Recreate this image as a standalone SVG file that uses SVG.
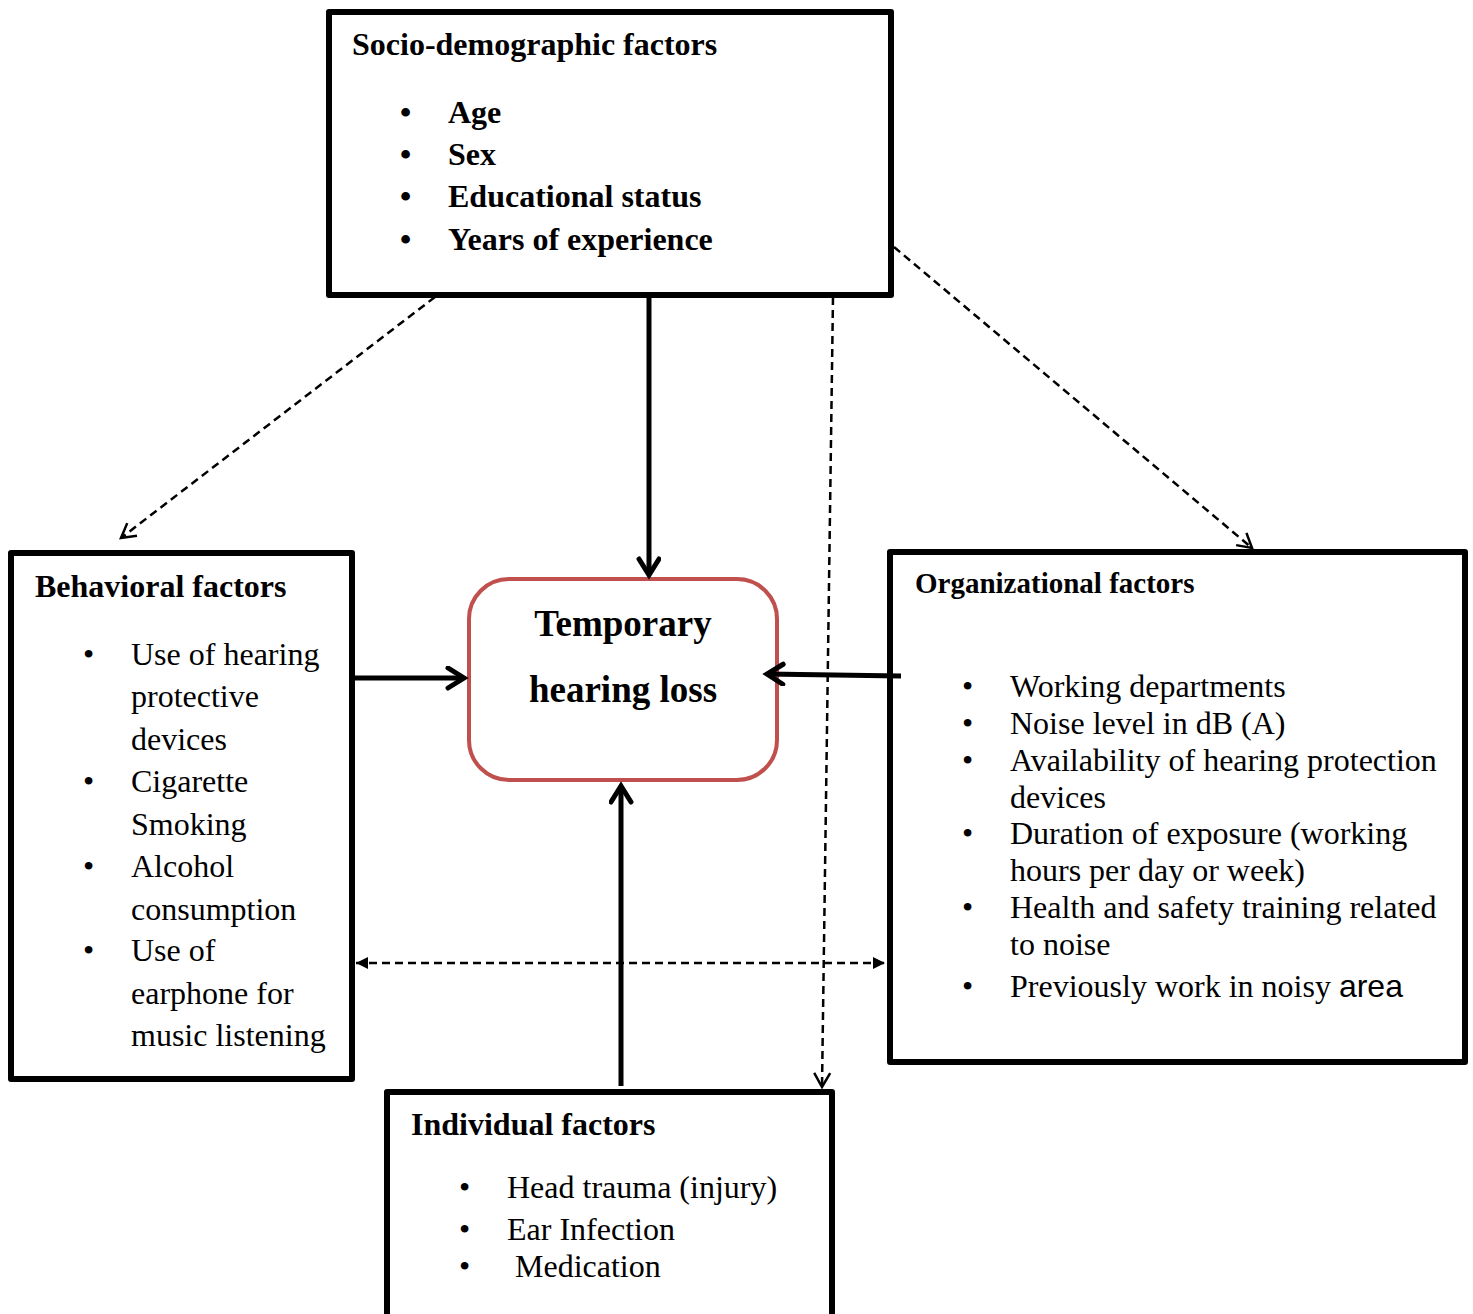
<svg xmlns="http://www.w3.org/2000/svg" width="1473" height="1314" viewBox="0 0 1473 1314">
<style>
.box{fill:#fff;stroke:#000;stroke-width:6;stroke-linejoin:round}
.title{font-family:"Liberation Serif","Times New Roman",serif;font-weight:bold;font-size:32px;fill:#000}
.b{font-family:"Liberation Serif","Times New Roman",serif;font-weight:bold;font-size:32px;fill:#000}
.r{font-family:"Liberation Serif","Times New Roman",serif;font-size:32px;fill:#000}
.r2{font-family:"Liberation Serif","Times New Roman",serif;font-size:32px;fill:#000}
.solid{stroke:#000;stroke-width:5;fill:none}
.dash{stroke:#000;stroke-width:2.5;stroke-dasharray:8,5;fill:none}
</style>
<defs>
<marker id="openBig" markerUnits="userSpaceOnUse" markerWidth="30" markerHeight="30" refX="22" refY="12" orient="auto">
<path d="M6,2 L22,12 L6,22" fill="none" stroke="#000" stroke-width="5" stroke-linecap="round" stroke-linejoin="miter"/>
</marker>
<marker id="openSmall" markerUnits="userSpaceOnUse" markerWidth="24" markerHeight="24" refX="18" refY="10" orient="auto">
<path d="M4,2 L18,10 L4,18" fill="none" stroke="#000" stroke-width="2.5"/>
</marker>
<marker id="fillSmall" markerUnits="userSpaceOnUse" markerWidth="16" markerHeight="16" refX="12" refY="6" orient="auto-start-reverse">
<path d="M0,0 L12,6 L0,12 Z" fill="#000"/>
</marker>
</defs>
<rect width="1473" height="1314" fill="#fff"/>

<g id="socio">
<rect class="box" x="329" y="12" width="562" height="283"/>
<text class="title" x="352" y="55">Socio-demographic factors</text>
<text class="b" x="400" y="123">•</text><text class="b" x="448" y="123">Age</text>
<text class="b" x="400" y="165">•</text><text class="b" x="448" y="165">Sex</text>
<text class="b" x="400" y="207">•</text><text class="b" x="448" y="207">Educational status</text>
<text class="b" x="400" y="250">•</text><text class="b" x="448" y="250">Years of experience</text>
</g>

<g id="behavioral">
<rect class="box" x="11" y="553" width="341" height="526"/>
<text class="title" x="35" y="597">Behavioral factors</text>
<text class="r" x="83" y="665">•</text><text class="r" x="131" y="665">Use of hearing</text>
<text class="r" x="131" y="707">protective</text>
<text class="r" x="131" y="750">devices</text>
<text class="r" x="83" y="792">•</text><text class="r" x="131" y="792">Cigarette</text>
<text class="r" x="131" y="835">Smoking</text>
<text class="r" x="83" y="877">•</text><text class="r" x="131" y="877">Alcohol</text>
<text class="r" x="131" y="920">consumption</text>
<text class="r" x="83" y="961">•</text><text class="r" x="131" y="961">Use of</text>
<text class="r" x="131" y="1004">earphone for</text>
<text class="r" x="131" y="1046">music listening</text>
</g>

<g id="organizational">
<rect class="box" x="890" y="552" width="575" height="510"/>
<text class="title" x="915" y="593" style="font-size:29px">Organizational factors</text>
<text class="r2" x="962" y="697">•</text><text class="r2" x="1010" y="697">Working departments</text>
<text class="r2" x="962" y="734">•</text><text class="r2" x="1010" y="734">Noise level in dB (A)</text>
<text class="r2" x="962" y="771">•</text><text class="r2" x="1010" y="771">Availability of hearing protection</text>
<text class="r2" x="1010" y="808">devices</text>
<text class="r2" x="962" y="844">•</text><text class="r2" x="1010" y="844">Duration of exposure (working</text>
<text class="r2" x="1010" y="881">hours per day or week)</text>
<text class="r2" x="962" y="918">•</text><text class="r2" x="1010" y="918">Health and safety training related</text>
<text class="r2" x="1010" y="955">to noise</text>
<text class="r2" x="962" y="997">•</text><text class="r2" x="1010" y="997">Previously work in noisy <tspan style="font-family:'Liberation Sans',Arial,sans-serif">area</tspan></text>
</g>

<g id="individual">
<rect class="box" x="387" y="1092" width="445" height="240"/>
<text class="title" x="411" y="1135">Individual factors</text>
<text class="r" x="459" y="1198">•</text><text class="r" x="507" y="1198">Head trauma (injury)</text>
<text class="r" x="459" y="1240">•</text><text class="r" x="507" y="1240">Ear Infection</text>
<text class="r" x="459" y="1277">•</text><text class="r" x="515" y="1277">Medication</text>
</g>

<g id="temporary">
<rect x="469" y="579" width="308" height="201" rx="40" ry="40" fill="#fff" stroke="#C0504D" stroke-width="4"/>
<text class="b" x="623" y="636" text-anchor="middle" style="font-size:37px">Temporary</text>
<text class="b" x="623" y="702" text-anchor="middle" style="font-size:37px">hearing loss</text>
</g>

<g id="connectors">
<line class="solid" x1="649" y1="297" x2="649" y2="575" marker-end="url(#openBig)"/>
<line class="solid" x1="354" y1="678" x2="464" y2="678" marker-end="url(#openBig)"/>
<line class="solid" x1="901" y1="676" x2="767" y2="674" marker-end="url(#openBig)"/>
<line class="solid" x1="621" y1="1086" x2="621" y2="786" marker-end="url(#openBig)"/>
<line class="dash" x1="435" y1="297" x2="121" y2="538" marker-end="url(#openSmall)"/>
<line class="dash" x1="894" y1="247" x2="1252" y2="548" marker-end="url(#openSmall)"/>
<line class="dash" x1="833" y1="297" x2="822" y2="1087" marker-end="url(#openSmall)"/>
<line class="dash" x1="356" y1="963" x2="885" y2="963" marker-start="url(#fillSmall)" marker-end="url(#fillSmall)"/>
</g>
</svg>
